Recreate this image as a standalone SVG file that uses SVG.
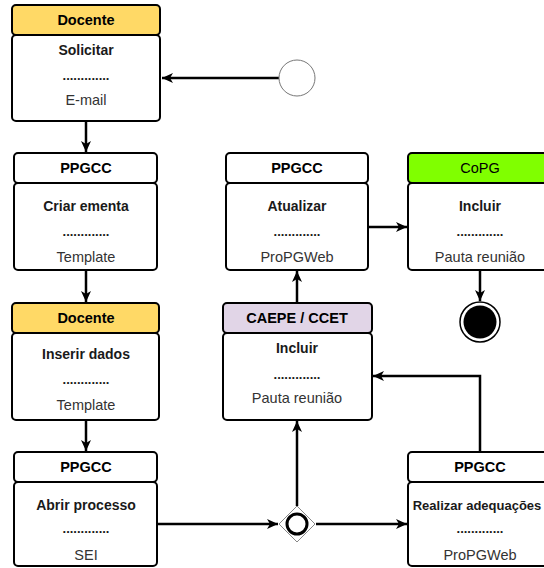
<svg xmlns="http://www.w3.org/2000/svg" width="544" height="568" viewBox="0 0 544 568">
<defs>
<style>
.box{fill:#fff;stroke:#000;stroke-width:2}
.doc{fill:#ffd966}
.cop{fill:#80ff00}
.cae{fill:#e1d5e7}
.hd{font-family:"Liberation Sans",Arial,sans-serif;font-size:14.5px;font-weight:bold;fill:#000;text-anchor:middle}
.hdn{font-family:"Liberation Sans",Arial,sans-serif;font-size:14.5px;fill:#000;text-anchor:middle}
.tt{font-family:"Liberation Sans",Arial,sans-serif;font-size:14px;font-weight:bold;fill:#1a1a1a;text-anchor:middle}
.dt{font-family:"Liberation Sans",Arial,sans-serif;font-size:13px;font-weight:bold;fill:#1a1a1a;text-anchor:middle}
.st{font-family:"Liberation Sans",Arial,sans-serif;font-size:14.5px;fill:#333;text-anchor:middle}
.ln{fill:none;stroke:#000;stroke-width:2.5;marker-end:url(#ah)}
</style>
<marker id="ah" markerUnits="userSpaceOnUse" markerWidth="12" markerHeight="12" viewBox="0 0 12 12" refX="11" refY="6" orient="auto">
<path d="M0,1 L11,6 L0,11 L3,6 Z" fill="#000"/>
</marker>
</defs>

<g id="connectors">
<path class="ln" d="M279,78 L162,78"/>
<path class="ln" d="M86,121 L86,152"/>
<path class="ln" d="M86,271 L86,302"/>
<path class="ln" d="M86,421 L86,451"/>
<path class="ln" d="M158,524 L278,524"/>
<path class="ln" d="M316,524 L407,524"/>
<path class="ln" d="M297,506 L297,421"/>
<path class="ln" d="M480,452 L480,376 L373,376"/>
<path class="ln" d="M297,303 L297,271"/>
<path class="ln" d="M369,227 L407,227"/>
<path class="ln" d="M480,271 L480,301"/>
</g>

<g id="start">
<circle cx="297" cy="78" r="18" fill="#fff" stroke="#777" stroke-width="1"/>
</g>

<g id="n-solicitar">
<rect class="box doc" x="12" y="5" width="148" height="30" rx="4"/>
<rect class="box" x="12" y="35" width="148" height="86" rx="4"/>
<text class="hd" x="86" y="25">Docente</text>
<text class="tt" x="86" y="55">Solicitar</text>
<text class="dt" x="86" y="80">.............</text>
<text class="st" x="86" y="105">E-mail</text>
</g>

<g id="n-criar">
<rect class="box" x="14" y="153" width="143" height="30" rx="4"/>
<rect class="box" x="14" y="183" width="143" height="87" rx="4"/>
<text class="hd" x="86" y="173">PPGCC</text>
<text class="tt" x="86" y="211">Criar ementa</text>
<text class="dt" x="86" y="236">.............</text>
<text class="st" x="86" y="262">Template</text>
</g>

<g id="n-inserir">
<rect class="box doc" x="12" y="303" width="147" height="30" rx="4"/>
<rect class="box" x="12" y="333" width="147" height="87" rx="4"/>
<text class="hd" x="86" y="323">Docente</text>
<text class="tt" x="86" y="359">Inserir dados</text>
<text class="dt" x="86" y="384">.............</text>
<text class="st" x="86" y="410">Template</text>
</g>

<g id="n-abrir">
<rect class="box" x="14" y="452" width="143" height="30" rx="4"/>
<rect class="box" x="14" y="482" width="143" height="84" rx="4"/>
<text class="hd" x="86" y="472">PPGCC</text>
<text class="tt" x="86" y="510">Abrir processo</text>
<text class="dt" x="86" y="533">.............</text>
<text class="st" x="86" y="560">SEI</text>
</g>

<g id="n-atualizar">
<rect class="box" x="226" y="153" width="142" height="30" rx="4"/>
<rect class="box" x="226" y="183" width="142" height="87" rx="4"/>
<text class="hd" x="297" y="173">PPGCC</text>
<text class="tt" x="297" y="211">Atualizar</text>
<text class="dt" x="297" y="236">.............</text>
<text class="st" x="297" y="262">ProPGWeb</text>
</g>

<g id="n-copg">
<rect class="box cop" x="408" y="153" width="144" height="30" rx="4"/>
<rect class="box" x="408" y="183" width="144" height="87" rx="4"/>
<text class="hdn" x="480" y="173">CoPG</text>
<text class="tt" x="480" y="211">Incluir</text>
<text class="dt" x="480" y="236">.............</text>
<text class="st" x="480" y="262">Pauta reunião</text>
</g>

<g id="n-caepe">
<rect class="box cae" x="223" y="303" width="149" height="30" rx="4"/>
<rect class="box" x="223" y="333" width="149" height="87" rx="4"/>
<text class="hd" x="297" y="323">CAEPE / CCET</text>
<text class="tt" x="297" y="353">Incluir</text>
<text class="dt" x="297" y="379">.............</text>
<text class="st" x="297" y="403">Pauta reunião</text>
</g>

<g id="n-realizar">
<rect class="box" x="408" y="452" width="144" height="30" rx="4"/>
<rect class="box" x="408" y="482" width="144" height="84" rx="4"/>
<text class="hd" x="480" y="472">PPGCC</text>
<text class="tt" x="477" y="510" style="font-size:13px">Realizar adequações</text>
<text class="dt" x="480" y="533">.............</text>
<text class="st" x="480" y="560">ProPGWeb</text>
</g>

<g id="gateway">
<path d="M297,506 L315,524 L297,542 L279,524 Z" fill="#fff" stroke="#888" stroke-width="1"/>
<circle cx="297" cy="524" r="10" fill="#fff" stroke="#000" stroke-width="3"/>
</g>

<g id="end">
<circle cx="480" cy="322" r="20" fill="#fff" stroke="#000" stroke-width="1.5"/>
<circle cx="480" cy="322" r="16.5" fill="#000"/>
</g>
</svg>
